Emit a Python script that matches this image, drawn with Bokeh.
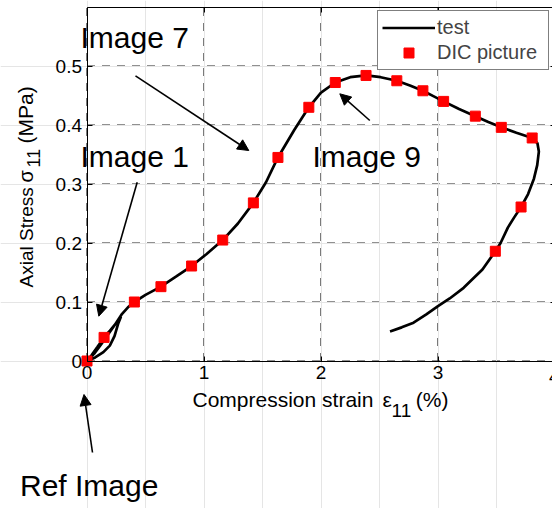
from math import pi

from bokeh.embed import file_html
from bokeh.models import (Arrow, FixedTicker, Label, Legend, LegendItem,
                          LinearAxis, NormalHead, Range1d)
from bokeh.plotting import figure
from bokeh.resources import INLINE

# Compression test: strain (%) vs axial stress (MPa)
test_strain = [0.000, 0.070, 0.140, 0.195, 0.235, 0.266, 0.290,
               0.240, 0.190, 0.146, 0.090, 0.040, 0.010,
               0.060, 0.120, 0.180, 0.240, 0.300, 0.350, 0.405,
               0.500, 0.632, 0.760, 0.894, 1.020, 1.160, 1.290, 1.422,
               1.530, 1.632, 1.770, 1.896, 2.000, 2.122, 2.250, 2.385,
               2.510, 2.648, 2.760, 2.871, 2.960, 3.048, 3.180, 3.319,
               3.430, 3.541, 3.670, 3.805, 3.850, 3.862, 3.848, 3.820,
               3.770, 3.710, 3.650, 3.597, 3.535, 3.490, 3.380, 3.219,
               3.100, 3.000, 2.900, 2.791, 2.690, 2.590]
test_stress = [0.000, 0.006, 0.015, 0.026, 0.042, 0.063, 0.075,
               0.062, 0.050, 0.040, 0.024, 0.010, 0.002,
               0.012, 0.028, 0.045, 0.062, 0.080, 0.091, 0.100,
               0.112, 0.126, 0.143, 0.161, 0.181, 0.205, 0.233, 0.268,
               0.303, 0.345, 0.391, 0.430, 0.455, 0.472, 0.481, 0.484,
               0.481, 0.475, 0.467, 0.458, 0.449, 0.440, 0.427, 0.415,
               0.405, 0.396, 0.387, 0.378, 0.369, 0.355, 0.332, 0.309,
               0.283, 0.261, 0.243, 0.226, 0.200, 0.186, 0.155, 0.124,
               0.106, 0.093, 0.079, 0.065, 0.057, 0.050]

# Instants at which DIC pictures were taken
dic_strain = [0.000, 0.146, 0.405, 0.632, 0.894, 1.160, 1.422, 1.632,
              1.896, 2.122, 2.385, 2.648, 2.871, 3.048, 3.319, 3.541,
              3.805, 3.710, 3.490]
dic_stress = [0.000, 0.040, 0.100, 0.126, 0.161, 0.205, 0.268, 0.345,
              0.430, 0.472, 0.484, 0.475, 0.458, 0.440, 0.415, 0.396,
              0.378, 0.261, 0.186]

x_ticks = [0, 1, 2, 3, 4]
y_ticks = [0, 0.1, 0.2, 0.3, 0.4, 0.5]
y_tick_labels = ["0", "0.1", "0.2", "0.3", "0.4", "0.5"]
x_box = (0, 4)      # axes box in strain
y_box = (0, 0.6)    # axes box in stress

W, H = 552, 508
# canvas layout: pixel position of the origin and pixels per unit
X0, KX = 86.5, 117.0
Y0, KY = 360.5, 590.0


def dx(px):
    return (px - X0) / KX


def dy(py):
    return (Y0 - py) / KY


SANS = "Liberation Sans"
BASE = 0.36   # alphabetic baseline offset of labels, in em

# The frame spans the whole canvas so that titles and notes around the
# axes box can be placed freely; the axes are pinned at the box edges.
p = figure(width=W, height=H, output_backend="svg", toolbar_location=None,
           x_range=Range1d(dx(0), dx(W)), y_range=Range1d(dy(H), dy(0)),
           x_axis_location=None, y_axis_location=None,
           min_border=0, min_border_left=0, min_border_right=0,
           min_border_top=0, min_border_bottom=0,
           background_fill_color="white", border_fill_color="white",
           outline_line_color=None)


def box_axis(side, loc, bounds, ticks, labelled):
    ax = LinearAxis(fixed_location=loc, bounds=bounds,
                    ticker=FixedTicker(ticks=ticks),
                    major_tick_in=5, major_tick_out=0,
                    minor_tick_in=0, minor_tick_out=0,
                    axis_line_color="black", axis_line_width=1,
                    major_tick_line_color="black",
                    major_label_text_font=SANS,
                    major_label_text_font_size="19px",
                    major_label_standoff=5,
                    major_label_text_color="black" if labelled else None)
    p.add_layout(ax, side)
    return ax


box_axis("below", y_box[0], x_box, x_ticks, True)
yax = box_axis("left", x_box[0], y_box, y_ticks, True)
yax.major_label_overrides = {t: s for t, s in zip(y_ticks, y_tick_labels)}
box_axis("above", y_box[1], x_box, x_ticks, False)
box_axis("right", x_box[1], y_box, y_ticks, False)

# dashed grid inside the axes box
GRID = dict(line_color="#222222", line_width=1.2, line_dash="8 7",
            level="underlay")
p.segment(x0=x_ticks, y0=[y_box[0]] * len(x_ticks), x1=x_ticks,
          y1=[y_box[1]] * len(x_ticks), **GRID)
p.segment(x0=[x_box[0]] * len(y_ticks), y0=y_ticks,
          x1=[x_box[1]] * len(y_ticks), y1=y_ticks, **GRID)

line_r = p.line(test_strain, test_stress, line_color="black", line_width=2.7)
sq_r = p.scatter(dic_strain, dic_stress, marker="square", size=10,
                 fill_color="red", line_color="red")

legend = Legend(items=[LegendItem(label="test", renderers=[line_r]),
                       LegendItem(label="DIC picture", renderers=[sq_r])],
                location=(377, H - 70), margin=0, padding=4, spacing=0,
                glyph_width=53, glyph_height=25, label_height=25,
                label_width=107, label_standoff=2,
                label_text_font=SANS, label_text_font_size="20px",
                border_line_color="black", border_line_width=1,
                background_fill_color="white", background_fill_alpha=1)
p.add_layout(legend)


def text_at(px, baseline, text, size, angle=0.0):
    """Place text with its left end at px and its baseline at the given pixel."""
    if angle:
        x, y = dx(baseline - BASE * size), dy(px)
    else:
        x, y = dx(px), dy(baseline - BASE * size)
    p.add_layout(Label(x=x, y=y, text=text, angle=angle, text_align="left",
                       text_baseline="alphabetic", text_font=SANS,
                       text_font_size=f"{size}px", text_color="black"))


# "4" tick label, cut by the right edge
text_at(548.5, 383.3, "4", 19)

# axis titles with subscripts
text_at(192, 406.5, "Compression strain", 21)
text_at(382, 406.5, "\u03b5", 21)
text_at(391, 417.0, "11", 19)
text_at(415.3, 406.5, "(%)", 21)

text_at(287, 33, "Axial Stress", 19, angle=pi / 2)
text_at(182, 33, "\u03c3", 20, angle=pi / 2)
text_at(167, 39, "11", 18, angle=pi / 2)
text_at(143, 33, "(MPa)", 21, angle=pi / 2)

# picture annotations
text_at(80, 47.7, "Image 7", 30)
text_at(80, 167.0, "Image 1", 30)
text_at(312, 166.7, "Image 9", 30)
text_at(19.5, 495.7, "Ref Image", 30)


def pointer(p0, p1):
    (x0, y0), (x1, y1) = p0, p1
    p.add_layout(Arrow(x_start=dx(x0), y_start=dy(y0),
                       x_end=dx(x1), y_end=dy(y1),
                       line_color="black", line_width=1.6,
                       end=NormalHead(size=11, fill_color="black",
                                      line_color="black", line_width=1)))


pointer((135, 75.3), (248.3, 150))
pointer((136.7, 181.7), (98.3, 315.7))
pointer((369.3, 120), (339.3, 93.3))
pointer((92, 452), (83.5, 394))

open("out.html", "w").write(file_html(p, INLINE))
